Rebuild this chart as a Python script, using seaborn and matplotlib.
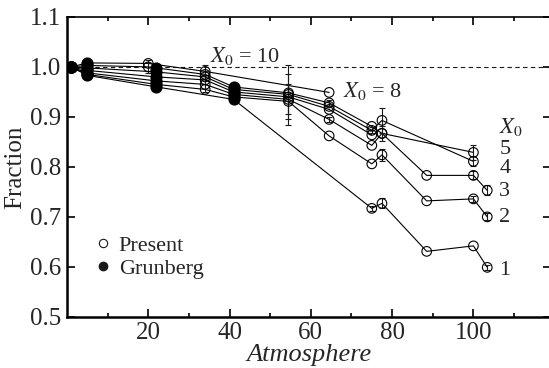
import numpy as np
import pandas as pd
import seaborn as sns
import matplotlib.pyplot as plt
from matplotlib.lines import Line2D

# x positions shared by all curves, and which data set each one comes from
X_POS = [1, 5, 20, 22, 34, 41, 54.5, 64.5, 75, 77.5, 88.5, 100, 103.4]
SOURCE = ['Grunberg', 'Grunberg', 'Present', 'Grunberg', 'Present', 'Grunberg',
          'Present', 'Present', 'Present', 'Present', 'Present', 'Present', 'Present']
N = np.nan

# fraction for each X0 curve (nan = no point at that x)
y_x8 = [1.0, 1.008, 1.007, N, 0.991, N, N, 0.949, N, N, N, N, N]
y_x5 = [1.0, 1.003, 1.000, 0.998, 0.985, 0.960, 0.948, 0.928, 0.881, 0.867, N, 0.829, N]
y_x4 = [1.0, 0.998, N, 0.990, 0.980, 0.955, 0.945, 0.921, 0.873, 0.893, N, 0.811, N]
y_x6 = [1.0, 0.993, N, 0.980, 0.974, 0.950, 0.940, 0.915, 0.864, N, N, N, N]
y_x3 = [1.0, 0.988, N, 0.972, 0.965, 0.945, 0.935, 0.895, 0.843, 0.867, 0.783, 0.783, 0.753]
y_x2 = [1.0, 0.985, N, 0.965, 0.955, 0.940, 0.931, 0.862, 0.806, 0.824, 0.732, 0.736, 0.700]
y_x1 = [1.0, 0.983, N, 0.960, N, 0.935, N, N, 0.717, 0.727, 0.631, 0.642, 0.599]

# error bars on the present points
ERR_X = [20, 34, 54.5, 54.5, 54.5, 64.5, 64.5, 75, 75, 77.5, 77.5, 77.5, 77.5,
         100, 100, 100, 100, 103.4, 103.4, 103.4]
ERR_Y = [1.0, 0.977, 0.944, 0.940, 0.935, 0.928, 0.895, 0.873, 0.717, 0.893, 0.867,
         0.824, 0.727, 0.829, 0.811, 0.783, 0.736, 0.753, 0.700, 0.599]
ERR_E = [0.013, 0.027, 0.060, 0.045, 0.030, 0.006, 0.005, 0.006, 0.005, 0.025, 0.015,
         0.012, 0.010, 0.015, 0.010, 0.008, 0.006, 0.010, 0.007, 0.005]

series = {'8': y_x8, '5': y_x5, '4': y_x4, '6': y_x6, '3': y_x3, '2': y_x2, '1': y_x1}
rows = []
for name, ys in series.items():
    for x, y, s in zip(X_POS, ys, SOURCE):
        if not np.isnan(y):
            rows.append((name, x, y, s))
df = pd.DataFrame(rows, columns=['X0', 'x', 'y', 'source'])

sns.set_theme(style='ticks')
plt.rcParams['font.family'] = ['Liberation Serif', 'DejaVu Serif']
plt.rcParams['mathtext.fontset'] = 'stix'

fig = plt.figure(figsize=(5.49, 3.68), dpi=100)
ax = fig.add_axes([0.122, 0.139, 0.881, 0.815])

ax.hlines(1.0, 5, 119, colors='k', linestyles=(0, (4, 3)), lw=0.8, zorder=1)
sns.lineplot(data=df, x='x', y='y', units='X0', estimator=None, sort=False,
             color='black', lw=0.8, ax=ax, zorder=2)
ax.errorbar(ERR_X, ERR_Y, yerr=ERR_E, fmt='none', ecolor='k', elinewidth=0.8,
            capsize=2, capthick=0.8, zorder=3)
g = df[df.source == 'Grunberg']
p = df[df.source == 'Present']
ax.scatter(g.x, g.y, s=60, c='black', marker='o', zorder=4)
ax.scatter(p.x, p.y, s=48, facecolors='none', edgecolors='black', linewidths=0.8, zorder=4)

ax.set_xlim(0, 119)
ax.set_ylim(0.5, 1.1)
ax.set_xticks([20, 40, 60, 80, 100])
ax.set_xticks(np.arange(10, 120, 10), minor=True)
ax.set_yticks(np.arange(0.5, 1.11, 0.1))
ax.yaxis.set_major_formatter(plt.FormatStrFormatter('%.1f'))
ax.tick_params(which='both', direction='in', top=True, right=True, labelsize=18,
               color='black', width=1.2, pad=4)
ax.tick_params(which='major', length=6)
ax.tick_params(which='minor', length=3)
for side in ['left', 'bottom']:
    ax.spines[side].set_linewidth(1.8)
for side in ['top', 'right']:
    ax.spines[side].set_linewidth(1.2)
for sp in ax.spines.values():
    sp.set_color('black')

ax.set_xlabel('Atmosphere', fontsize=19, style='italic', labelpad=0)
ax.set_ylabel('Fraction', fontsize=18, labelpad=3)

ax.text(35.3, 1.021, r'$X_0$ = 10', fontsize=16, va='center', ha='left')
ax.text(68, 0.952, r'$X_0$ = 8', fontsize=16, va='center', ha='left')
ax.text(106.2, 0.88, r'$X_0$', fontsize=16, va='center', ha='left')
for lab, yy in zip(['5', '4', '3', '2', '1'], [0.834, 0.797, 0.750, 0.698, 0.592]):
    ax.text(106.4, yy, lab, fontsize=16, va='center', ha='left')

handles = [Line2D([], [], ls='none', marker='o', mfc='none', mec='k', ms=6, mew=0.8),
           Line2D([], [], ls='none', marker='o', mfc='k', mec='k', ms=6)]
ax.legend(handles, ['Present', 'Grunberg'], loc='center left', bbox_to_anchor=(0.02, 0.2),
          frameon=False, fontsize=16, handlelength=0.6, handletextpad=0.4, labelspacing=0.1)

fig.savefig('out.png', dpi=100)
